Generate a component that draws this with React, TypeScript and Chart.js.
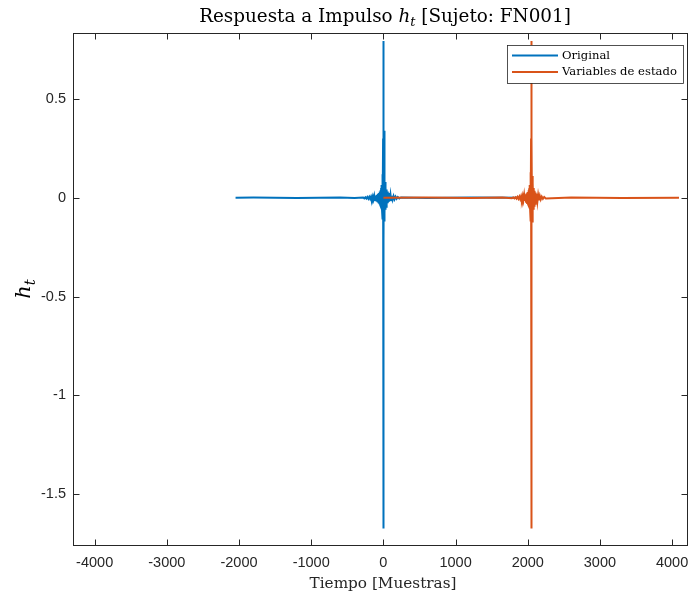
import React, { useEffect, useRef } from "react";
import { Chart, registerables } from "chart.js";

Chart.register(...registerables);

// ---------- data ----------
const seriesNames = ["Original", "Variables de estado"];
const seriesColors = ["#0072BD", "#D95319"];

const blueX = [-2048, -1800, -1200, -600, -400, -280, -265, -250, -236, -222, -208, -195, -182, -170, -158, -147, -136, -126, -116, -107, -98, -90, -82, -75, -68, -62, -56, -50, -45, -40, -35, -31, -27, -23, -19, -16, -13, -10, -7, -4, -2, 0, 1, 3, 6, 9, 12, 15, 19, 23, 27, 32, 37, 42, 48, 54, 60, 67, 74, 82, 90, 99, 108, 118, 129, 141, 154, 168, 183, 200, 220, 245, 600, 1200, 2047];
const blueY = [0, 0.001, -0.001, 0.001, -0.001, 0.002, -0.003, 0.003, -0.004, 0.004, -0.005, 0.005, -0.006, 0.006, -0.007, 0.008, -0.009, 0.01, -0.011, 0.012, -0.014, 0.016, -0.018, 0.02, -0.022, 0.025, -0.028, 0.032, -0.035, 0.04, -0.042, 0.05, -0.05, 0.065, -0.06, 0.085, -0.08, 0.12, -0.11, 0.3, -0.22, 0.795, -1.675, 0.55, -0.23, 0.34, -0.12, 0.12, -0.08, 0.08, -0.06, 0.055, -0.045, 0.042, -0.035, 0.032, -0.027, 0.025, -0.021, 0.019, -0.016, 0.014, -0.012, 0.011, -0.009, 0.008, -0.007, 0.006, -0.005, 0.004, -0.003, 0.002, -0.001, 0.001, 0];

const orangeX = [0, 600, 1200, 1650, 1780, 1800, 1815, 1830, 1844, 1858, 1871, 1884, 1896, 1908, 1919, 1930, 1940, 1950, 1959, 1968, 1976, 1984, 1991, 1998, 2004, 2010, 2015, 2020, 2025, 2029, 2033, 2036, 2039, 2042, 2044, 2046, 2048, 2049, 2051, 2054, 2057, 2060, 2064, 2068, 2072, 2077, 2082, 2088, 2094, 2101, 2108, 2116, 2125, 2134, 2144, 2155, 2167, 2180, 2194, 2210, 2228, 2250, 2600, 3300, 4095];
const orangeY = [0, 0.001, -0.001, 0.001, -0.002, 0.002, -0.003, 0.003, -0.004, 0.005, -0.005, 0.006, -0.007, 0.008, -0.009, 0.01, -0.012, 0.014, -0.016, 0.018, -0.02, 0.023, -0.026, 0.03, -0.033, 0.038, -0.04, 0.048, -0.05, 0.065, -0.06, 0.085, -0.08, 0.13, -0.12, 0.3, 0.795, -1.675, 0.5, -0.22, 0.3, -0.12, 0.11, -0.08, 0.075, -0.055, 0.05, -0.04, 0.036, -0.03, 0.027, -0.023, 0.02, -0.017, 0.014, -0.012, 0.01, -0.008, 0.006, -0.005, 0.004, -0.003, 0.001, -0.001, 0];

const xTicks = [-4000, -3000, -2000, -1000, 0, 1000, 2000, 3000, 4000];
const yTicks = [-1.5, -1, -0.5, 0, 0.5];
const xLimits = [-4300, 4220];
const yLimits = [-1.759, 0.835];

const titleParts = [
  { text: "Respuesta a Impulso ", italic: false, sub: false },
  { text: "h", italic: true, sub: false },
  { text: "t", italic: true, sub: true },
  { text: " [Sujeto: FN001]", italic: false, sub: false },
];
const yTitleParts = [
  { text: "h", italic: true, sub: false },
  { text: "t", italic: true, sub: true },
];
const xTitle = "Tiempo [Muestras]";

// ---------- styling ----------
const SERIF = '"DejaVu Serif", "Liberation Serif", serif';
const SANS = '"Liberation Sans", Arial, Helvetica, sans-serif';
const AX = "#262626";

type Part = { text: string; italic: boolean; sub: boolean };

function partFont(p: Part, size: number) {
  const s = p.sub ? size * 0.7 : size;
  return `${p.italic ? "italic " : ""}${s}px ${SERIF}`;
}
function partsWidth(ctx: CanvasRenderingContext2D, parts: Part[], size: number) {
  let w = 0;
  for (const p of parts) {
    ctx.font = partFont(p, size);
    w += ctx.measureText(p.text).width;
  }
  return w;
}
function drawParts(ctx: CanvasRenderingContext2D, parts: Part[], size: number, x: number, y: number) {
  let cx = x;
  for (const p of parts) {
    ctx.font = partFont(p, size);
    ctx.fillText(p.text, cx, p.sub ? y + size * 0.22 : y);
    cx += ctx.measureText(p.text).width;
  }
}
function fitSize(ctx: CanvasRenderingContext2D, parts: Part[], target: number) {
  return (100 * target) / partsWidth(ctx, parts, 100);
}

const decorPlugin = {
  id: "decor",
  afterDraw(chart: any) {
    const { ctx, chartArea: a, scales } = chart;
    const xs = scales.x;
    const ys = scales.y;
    ctx.save();

    // frame
    ctx.strokeStyle = AX;
    ctx.lineWidth = 1;
    ctx.strokeRect(a.left + 0.5, a.top + 0.5, a.right - a.left - 1, a.bottom - a.top);

    // inward ticks on all four sides
    const tl = 6;
    ctx.beginPath();
    for (const v of xTicks) {
      const px = Math.round(xs.getPixelForValue(v)) + 0.5;
      ctx.moveTo(px, a.bottom + 0.5);
      ctx.lineTo(px, a.bottom + 0.5 - tl);
      ctx.moveTo(px, a.top + 0.5);
      ctx.lineTo(px, a.top + 0.5 + tl);
    }
    for (const v of yTicks) {
      const py = Math.round(ys.getPixelForValue(v)) + 0.5;
      ctx.moveTo(a.left + 0.5, py);
      ctx.lineTo(a.left + 0.5 + tl, py);
      ctx.moveTo(a.right - 0.5, py);
      ctx.lineTo(a.right - 0.5 - tl, py);
    }
    ctx.stroke();

    // title
    ctx.fillStyle = "#000";
    ctx.textBaseline = "alphabetic";
    ctx.textAlign = "left";
    const ts = fitSize(ctx, titleParts, 372);
    const tw = partsWidth(ctx, titleParts, ts);
    drawParts(ctx, titleParts, ts, 385 - tw / 2, 22);

    // x axis title
    const xp = [{ text: xTitle, italic: false, sub: false }];
    const xsz = fitSize(ctx, xp, 147);
    const xw = partsWidth(ctx, xp, xsz);
    ctx.fillStyle = AX;
    drawParts(ctx, xp, xsz, 383 - xw / 2, 588);

    // y axis title (rotated)
    ctx.save();
    ctx.translate(30, (a.top + a.bottom) / 2);
    ctx.rotate(-Math.PI / 2);
    const ysz = 21;
    const yw = partsWidth(ctx, yTitleParts, ysz);
    ctx.fillStyle = "#000";
    drawParts(ctx, yTitleParts, ysz, -yw / 2, 0);
    ctx.restore();

    // legend
    const lx = 507, ly = 45, lw = 176, lh = 38;
    ctx.fillStyle = "#fff";
    ctx.fillRect(lx, ly, lw, lh);
    ctx.strokeStyle = AX;
    ctx.lineWidth = 0.8;
    ctx.strokeRect(lx + 0.5, ly + 0.5, lw, lh);
    const lsz = fitSize(ctx, [{ text: seriesNames[1], italic: false, sub: false }], 115);
    ctx.textBaseline = "middle";
    seriesNames.forEach((name, i) => {
      const yy = ly + 10.5 + i * 16.5;
      ctx.strokeStyle = seriesColors[i];
      ctx.lineWidth = 1.8;
      ctx.beginPath();
      ctx.moveTo(lx + 5, yy);
      ctx.lineTo(lx + 51, yy);
      ctx.stroke();
      ctx.fillStyle = "#000";
      ctx.font = `${lsz}px ${SERIF}`;
      ctx.fillText(name, lx + 55, yy);
    });

    ctx.restore();
  },
};

export default function App() {
  const ref = useRef<HTMLCanvasElement>(null);
  useEffect(() => {
    document.body.style.margin = "0";
    const canvas = ref.current!;
    const chart = new Chart(canvas, {
      type: "line",
      data: {
        datasets: [
          {
            label: seriesNames[0],
            data: blueX.map((x, i) => ({ x, y: blueY[i] })),
            borderColor: seriesColors[0],
            backgroundColor: seriesColors[0],
            borderWidth: 2,
            pointRadius: 0,
            tension: 0,
            fill: false,
            order: 2,
          },
          {
            label: seriesNames[1],
            data: orangeX.map((x, i) => ({ x, y: orangeY[i] })),
            borderColor: seriesColors[1],
            backgroundColor: seriesColors[1],
            borderWidth: 2,
            pointRadius: 0,
            tension: 0,
            fill: false,
            order: 1,
          },
        ],
      },
      options: {
        animation: false,
        responsive: false,
        devicePixelRatio: 1,
        events: [],
        layout: { padding: { top: 33, right: 1, left: 0, bottom: 0 } },
        plugins: {
          legend: { display: false },
          title: { display: false },
          tooltip: { enabled: false },
        },
        scales: {
          x: {
            type: "linear",
            min: xLimits[0],
            max: xLimits[1],
            afterBuildTicks: (s: any) => {
              s.ticks = xTicks.map((v) => ({ value: v }));
            },
            afterFit: (s: any) => {
              s.height = 49;
              s.paddingLeft = 0;
              s.paddingRight = 0;
            },
            ticks: {
              callback: (v: any) => String(v),
              font: { family: SANS, size: 14.5 },
              color: AX,
              padding: 9,
              maxRotation: 0,
              autoSkip: false,
            },
            grid: { display: false, drawTicks: false },
            border: { display: false },
          },
          y: {
            type: "linear",
            min: yLimits[0],
            max: yLimits[1],
            afterBuildTicks: (s: any) => {
              s.ticks = yTicks.map((v) => ({ value: v }));
            },
            afterFit: (s: any) => {
              s.width = 73;
              s.paddingTop = 0;
              s.paddingBottom = 0;
            },
            ticks: {
              callback: (v: any) => String(v),
              font: { family: SANS, size: 14.5 },
              color: AX,
              padding: 7,
              autoSkip: false,
            },
            grid: { display: false, drawTicks: false },
            border: { display: false },
          },
        },
      },
      plugins: [decorPlugin],
    } as any);
    return () => chart.destroy();
  }, []);
  return (
    <div style={{ position: "absolute", left: 0, top: 0, width: 689, height: 594 }}>
      <canvas ref={ref} width={689} height={594} style={{ display: "block" }} />
    </div>
  );
}
